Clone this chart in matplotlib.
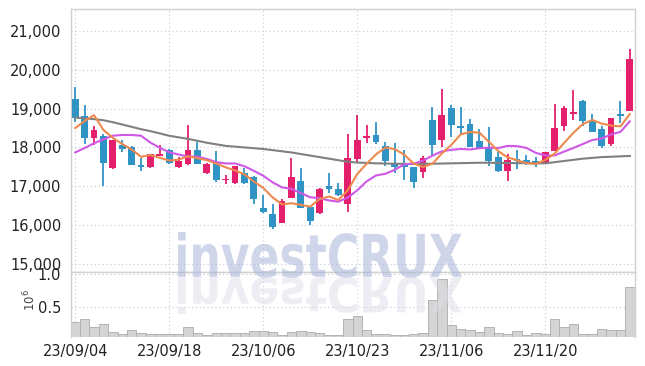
import numpy as np
import matplotlib.pyplot as plt
from matplotlib.textpath import TextPath
from matplotlib.font_manager import FontProperties
from matplotlib.patches import PathPatch
from matplotlib.transforms import Affine2D, IdentityTransform

# daily candles, 2023-09-04 .. 2023-12-01
tick_pos = [0, 10, 20, 30, 40, 50]
tick_labels = ["23/09/04", "23/09/18", "23/10/06", "23/10/23", "23/11/06", "23/11/20"]

opens = [19250, 18800, 18250, 18300, 17480, 18060, 18000, 17540, 17500, 17780,
         17930, 17490, 17570, 17930, 17340, 17600, 17150, 17080, 17330, 17250,
         16440, 16280, 16060, 16700, 17130, 16460, 16320, 17000, 16930, 16540,
         17690, 18240, 18320, 18030, 17560, 17540, 17490, 17360, 18700, 18180,
         19020, 18550, 18600, 18160, 18020, 17760, 17380, 17690, 17680, 17650,
         17570, 17920, 18540, 18850, 19200, 18680, 18470, 18090, 18860, 18950]
highs = [19550, 19100, 18550, 18350, 18200, 18200, 18040, 17740, 17830, 18050,
         17950, 17760, 18570, 18130, 17600, 17920, 17300, 17530, 17460, 17260,
         16770, 16540, 16660, 17720, 17480, 16470, 16960, 17350, 17090, 18340,
         18830, 18570, 18650, 18150, 18110, 17930, 17500, 17780, 19030, 19500,
         19090, 19030, 18720, 18470, 18520, 17890, 17830, 17930, 17800, 17760,
         17890, 19130, 19060, 19480, 19210, 18860, 18550, 18760, 19200, 20530]
lows = [18650, 18100, 18050, 17000, 17450, 17880, 17550, 17380, 17480, 17780,
        17560, 17470, 17550, 17570, 17320, 17110, 17060, 17060, 17060, 16530,
        16300, 15900, 16050, 16690, 16440, 16000, 16280, 16830, 16740, 16340,
        17600, 18110, 18090, 17530, 17330, 17160, 16950, 17200, 17800, 18020,
        18280, 18350, 18010, 17960, 17520, 17370, 17140, 17440, 17550, 17490,
        17560, 17900, 18430, 18700, 18540, 18400, 17980, 18040, 18620, 18940]
closes = [18750, 18250, 18450, 17600, 18180, 17960, 17550, 17500, 17820, 17830,
          17610, 17660, 17930, 17580, 17580, 17160, 17190, 17520, 17080, 16660,
          16340, 15960, 16620, 17230, 16450, 16110, 16940, 16940, 16780, 17720,
          18190, 18270, 18150, 17660, 17500, 17490, 17120, 17720, 18060, 18830,
          18580, 18490, 18020, 17980, 17660, 17380, 17680, 17650, 17600, 17570,
          17880, 18510, 19010, 18920, 18690, 18410, 18040, 18750, 18810, 20280]
volumes = [0.26, 0.31, 0.185, 0.23, 0.11, 0.08, 0.14, 0.09, 0.08, 0.08,
           0.08, 0.08, 0.185, 0.09, 0.063, 0.09, 0.09, 0.09, 0.09, 0.13,
           0.13, 0.11, 0.063, 0.11, 0.13, 0.115, 0.09, 0.063, 0.063, 0.32,
           0.36, 0.14, 0.083, 0.083, 0.063, 0.063, 0.083, 0.098, 0.61, 0.93,
           0.22, 0.16, 0.14, 0.115, 0.195, 0.098, 0.083, 0.13, 0.063, 0.09,
           0.083, 0.31, 0.185, 0.235, 0.083, 0.083, 0.155, 0.14, 0.14, 0.80]

ma5 = [18500, 18680, 18830, 18450, 18246, 18088, 17948, 17758, 17802, 17732,
       17662, 17684, 17770, 17722, 17672, 17582, 17488, 17406, 17306, 17122,
       16958, 16712, 16532, 16562, 16520, 16474, 16670, 16734, 16644, 16898,
       17314, 17580, 17822, 17998, 17954, 17814, 17584, 17498, 17578, 17844,
       18062, 18336, 18396, 18380, 18146, 17906, 17744, 17670, 17594, 17576,
       17676, 17842, 18114, 18378, 18602, 18708, 18614, 18564, 18542, 18860]
ma10 = [17870, 17985, 18106, 18209, 18302, 18320, 18320, 18302, 18123, 17989,
        17875, 17816, 17764, 17762, 17702, 17622, 17586, 17588, 17514, 17397,
        17270, 17100, 16969, 16934, 16821, 16716, 16691, 16633, 16603, 16709,
        16894, 17125, 17278, 17321, 17426, 17564, 17582, 17660, 17788, 17899,
        17938, 17960, 17947, 17979, 17995, 17984, 18040, 18033, 17987, 17861,
        17791, 17793, 17892, 17986, 18088, 18191, 18227, 18335, 18401, 18672]
ma_long = [18770, 18750, 18730, 18700, 18650, 18590, 18530, 18470, 18420, 18360,
           18300, 18260, 18220, 18170, 18120, 18080, 18040, 18020, 18000, 17980,
           17960, 17930, 17900, 17870, 17830, 17790, 17750, 17710, 17670, 17630,
           17610, 17600, 17590, 17585, 17580, 17575, 17575, 17575, 17580, 17585,
           17590, 17595, 17600, 17605, 17605, 17600, 17600, 17595, 17595, 17590,
           17590, 17620, 17650, 17680, 17710, 17730, 17750, 17760, 17770, 17780]

RED = "#e4206c"
BLUE = "#3093c6"
GRID = "#c6c9da"
SPINE = "#d0d0d0"
TXT = "#222222"

plt.rcParams["font.family"] = ["Liberation Sans Narrow", "DejaVu Sans Condensed", "DejaVu Sans"]

o = np.array(opens, float)
c = np.array(closes, float)
x = np.arange(len(c))
cols = np.where(c >= o, RED, BLUE)

fig = plt.figure(figsize=(6.45, 3.66), dpi=100)
ax = fig.add_axes([0.1101, 0.2555, 0.8744, 0.7199])
axv = fig.add_axes([0.1101, 0.0784, 0.8744, 0.1771], sharex=ax)

# candles
ax.vlines(x, lows, highs, colors=cols, lw=1.3, zorder=2)
body = np.maximum(np.abs(c - o), 45)
ax.bar(x, body, bottom=np.minimum(o, c), width=0.72, color=cols, zorder=3)

ax.plot(x, ma_long, color="#808080", lw=1.5, zorder=4)
ax.plot(x, ma10, color="#cf58e6", lw=1.5, zorder=4)
ax.plot(x, ma5, color="#ee8a4e", lw=1.5, zorder=4)

ax.set_xlim(-0.45, 59.55)
ax.set_ylim(14777, 21567)
ax.set_yticks([15000, 16000, 17000, 18000, 19000, 20000, 21000])
ax.set_yticklabels([f"{v:,}" for v in range(15000, 22000, 1000)])

# volume
axv.bar(x, volumes, width=1.0, color="#d4d4d4", edgecolor="#b3b3b3", lw=0.7, zorder=2)
axv.set_ylim(0.03, 1.03)
axv.set_yticks([0.5, 1.0])
axv.set_yticklabels(["0.5", "1.0"])
axv.set_xticks(tick_pos)
axv.set_xticklabels(tick_labels)
fig.text(30 / 645, 1 - 300 / 366, r"$10^6$", rotation=90, ha="center", va="center",
         fontsize=8.5, color="#444444", family="DejaVu Sans")

for a in (ax, axv):
    a.grid(True, ls=(0, (1, 2.5)), color=GRID, lw=0.8, zorder=0)
    a.set_axisbelow(True)
    a.tick_params(length=0, labelsize=10.5, colors=TXT, pad=7)
    for s in a.spines.values():
        s.set_color(SPINE)
        s.set_linewidth(1.0)
ax.tick_params(labelbottom=False)
axv.spines["bottom"].set_visible(False)
axv.tick_params(axis="x", pad=5)

# watermark + reflection (pixel coords)
fp = FontProperties(family="DejaVu Sans", weight="bold")
tp = TextPath((0, 0), "investCRUX", size=50, prop=fp)
ext = tp.get_extents()
H = 366
x0, x1 = 178, 462
ytop, ybot = 232, 278
sx = (x1 - x0) / ext.width
sy = (ybot - ytop) / ext.height
main_tr = Affine2D().translate(-ext.x0, -ext.y0).scale(sx, sy).translate(x0, H - ybot)
fig.patches.append(PathPatch(tp, transform=main_tr + IdentityTransform(), fc="#aab5da",
                             ec="none", alpha=0.55, zorder=10))
refl_tr = Affine2D().translate(-ext.x0, -ext.y0).scale(sx, -sy * 0.8).translate(x0, H - ybot + 1)
fig.patches.append(PathPatch(tp, transform=refl_tr + IdentityTransform(), fc="#dcdce8",
                             ec="none", alpha=0.5, zorder=10))

fig.savefig("out.png", dpi=100)
